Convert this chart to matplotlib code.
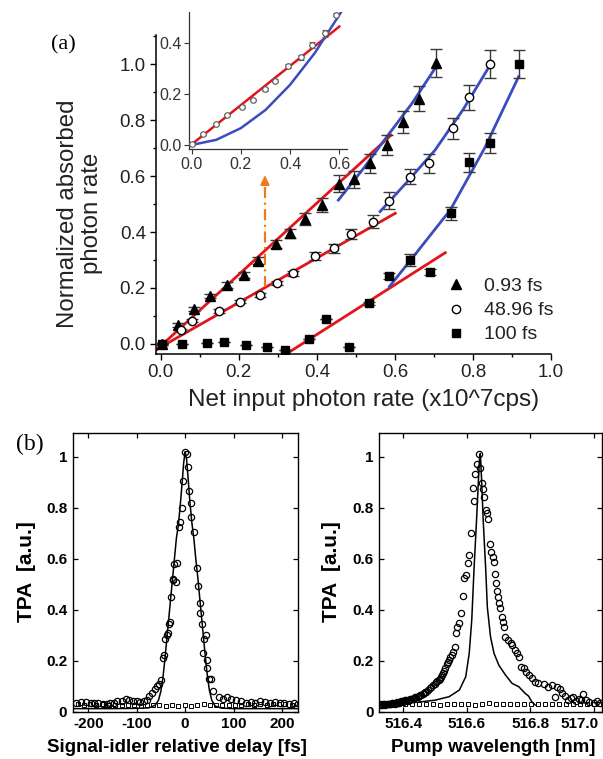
import matplotlib
matplotlib.use("Agg")
import matplotlib.pyplot as plt
import matplotlib.transforms as mtransforms
from matplotlib.lines import Line2D
from matplotlib.ticker import MultipleLocator
import numpy as np

# ---------------- Panel (a) data ----------------
tri_x = [0.003, 0.045, 0.084, 0.126, 0.169, 0.212, 0.248, 0.296, 0.332, 0.370, 0.413, 0.457, 0.496, 0.537, 0.579, 0.620, 0.661, 0.706]
tri_y = [0.000, 0.068, 0.124, 0.171, 0.211, 0.246, 0.298, 0.357, 0.395, 0.446, 0.496, 0.572, 0.588, 0.645, 0.711, 0.792, 0.877, 1.005]
tri_e = [0.005, 0.006, 0.007, 0.008, 0.010, 0.012, 0.014, 0.015, 0.016, 0.022, 0.024, 0.030, 0.030, 0.033, 0.037, 0.039, 0.044, 0.050]

cir_x = [0.003, 0.051, 0.079, 0.148, 0.203, 0.253, 0.299, 0.340, 0.394, 0.443, 0.488, 0.543, 0.584, 0.639, 0.688, 0.750, 0.790, 0.844]
cir_y = [0.000, 0.050, 0.083, 0.118, 0.151, 0.175, 0.217, 0.252, 0.314, 0.342, 0.393, 0.437, 0.512, 0.598, 0.645, 0.770, 0.881, 1.002]
cir_e = [0.004, 0.005, 0.005, 0.006, 0.006, 0.007, 0.008, 0.010, 0.013, 0.016, 0.019, 0.022, 0.030, 0.028, 0.033, 0.039, 0.044, 0.050]

sq_x = [0.003, 0.055, 0.118, 0.162, 0.218, 0.272, 0.319, 0.380, 0.424, 0.483, 0.534, 0.585, 0.638, 0.689, 0.744, 0.791, 0.844, 0.919]
sq_y = [0.000, 0.000, 0.005, 0.008, -0.004, -0.010, -0.021, 0.017, 0.088, -0.012, 0.145, 0.243, 0.300, 0.258, 0.467, 0.649, 0.717, 1.002]
sq_e = [0.0, 0.0, 0.0, 0.0, 0.0, 0.0, 0.0, 0.0, 0.0, 0.0, 0.006, 0.010, 0.020, 0.010, 0.024, 0.033, 0.036, 0.050]

# linear fits (endpoints) and quadratic-regime fits (read points)
red_tri_x = [-0.010, 0.590]
red_tri_y = [-0.020, 0.746]
red_cir_x = [-0.010, 0.601]
red_cir_y = [-0.019, 0.467]
red_sq_x = [0.327, 0.729]
red_sq_y = [-0.031, 0.326]

blue_tri_x = [0.455, 0.520, 0.579, 0.645, 0.708]
blue_tri_y = [0.514, 0.628, 0.740, 0.862, 0.996]
blue_cir_x = [0.562, 0.630, 0.703, 0.775, 0.849]
blue_cir_y = [0.473, 0.577, 0.693, 0.838, 1.008]
blue_sq_x = [0.586, 0.661, 0.742, 0.830, 0.917]
blue_sq_y = [0.205, 0.336, 0.479, 0.700, 0.955]

arrow_x = 0.267
arrow_y0, arrow_y1 = 0.205, 0.612

legend_labels = ["0.93 fs", "48.96 fs", "100 fs"]

# inset data (48.96 fs, low-rate region)
ins_x = [0.000, 0.045, 0.100, 0.145, 0.203, 0.250, 0.298, 0.339, 0.393, 0.443, 0.488, 0.542, 0.585]
ins_y = [0.004, 0.042, 0.081, 0.118, 0.150, 0.176, 0.218, 0.251, 0.311, 0.344, 0.392, 0.438, 0.510]
ins_e = [0.003, 0.003, 0.004, 0.004, 0.005, 0.005, 0.006, 0.006, 0.008, 0.010, 0.012, 0.014, 0.006]
ins_red_x = [-0.020, 0.600]
ins_red_y = [-0.013, 0.464]
ins_blue_x = [0.000, 0.100, 0.200, 0.300, 0.400, 0.500, 0.606]
ins_blue_y = [0.000, 0.020, 0.066, 0.137, 0.236, 0.360, 0.519]

# ---------------- Panel (b) data ----------------
dl_cx = [-225, -215, -205, -195, -188, -180, -170, -162, -155, -147, -140, -130, -122, -115, -108, -100, -93, -85, -78,
         -75, -68, -63, -58, -54, -50, -45, -44, -41, -38, -36, -33, -32, -30, -26, -25, -22, -19, -16, -13, -11, -7, -5,
         0, 3, 7, 9, 12, 13, 19, 24, 26, 30, 31, 34, 36, 40, 44, 45, 46, 50, 53, 58, 69, 78, 86, 95, 105, 115, 125, 135,
         145, 155, 165, 175, 185, 195, 205, 215, 225]
dl_cy = [0.035, 0.037, 0.038, 0.036, 0.035, 0.033, 0.032, 0.031, 0.034, 0.036, 0.040, 0.042, 0.048, 0.046, 0.042, 0.040, 0.037, 0.040, 0.045,
         0.060, 0.075, 0.090, 0.100, 0.110, 0.124, 0.210, 0.222, 0.285, 0.300, 0.310, 0.345, 0.353, 0.450, 0.515, 0.520, 0.578, 0.510, 0.584, 0.725, 0.745, 0.800, 0.905,
         1.017, 1.010, 0.960, 0.867, 0.820, 0.765, 0.703, 0.563, 0.494, 0.425, 0.386, 0.344, 0.229, 0.285, 0.300, 0.203, 0.170, 0.130, 0.127, 0.082, 0.056, 0.050, 0.059, 0.048, 0.046, 0.040, 0.036, 0.038,
         0.035, 0.040, 0.037, 0.035, 0.038, 0.036, 0.034, 0.031, 0.035]
dl_sx = [-222, -209, -196, -183, -170, -157, -144, -131, -118, -105, -92, -79, -66, -53, -40, -27, -14, -1, 12, 25, 38,
         51, 64, 77, 90, 103, 116, 129, 142, 155, 168, 181, 194, 207, 220, 231]
dl_sy = [0.030, 0.028, 0.031, 0.027, 0.029, 0.026, 0.028, 0.025, 0.027, 0.026, 0.024, 0.028, 0.025, 0.027, 0.024, 0.026, 0.023, 0.025, 0.024, 0.027, 0.030,
         0.026, 0.028, 0.025, 0.027, 0.028, 0.026, 0.029, 0.027, 0.030, 0.028, 0.031, 0.029, 0.030, 0.028, 0.032]
dl_fx = [-232, -150, -100, -75, -62, -55, -50, -46, -42, -38, -34, -30, -26, -22, -18, -14, -10, -6, -3, 0,
         3, 6, 10, 14, 18, 22, 26, 30, 34, 38, 42, 46, 50, 55, 62, 75, 100, 150, 233]
dl_fy = [0.012, 0.012, 0.013, 0.015, 0.025, 0.045, 0.080, 0.130, 0.200, 0.280, 0.360, 0.440, 0.520, 0.600, 0.680, 0.730, 0.810, 0.900, 0.975, 1.020,
         0.990, 0.920, 0.820, 0.740, 0.680, 0.600, 0.530, 0.450, 0.370, 0.290, 0.210, 0.140, 0.085, 0.045, 0.022, 0.014, 0.012, 0.012, 0.012]

wl_cx = [516.327, 516.330, 516.333, 516.337, 516.340, 516.344, 516.348, 516.352, 516.355, 516.359, 516.362, 516.366,
         516.369, 516.373, 516.376, 516.380, 516.383, 516.387, 516.390, 516.394, 516.397, 516.401, 516.404, 516.407,
         516.410, 516.414, 516.418, 516.422, 516.426, 516.430, 516.434, 516.438, 516.442, 516.446, 516.450, 516.454,
         516.457, 516.461, 516.465, 516.469, 516.473, 516.478, 516.483, 516.489, 516.494, 516.500,
         516.504, 516.508, 516.512, 516.516, 516.519, 516.523, 516.527, 516.530, 516.533, 516.537, 516.540, 516.543, 516.548,
         516.554, 516.556, 516.564, 516.566, 516.571, 516.575, 516.582, 516.587, 516.590, 516.597, 516.604, 516.606, 516.613,
         516.620, 516.623, 516.626, 516.631, 516.639, 516.642, 516.647, 516.652, 516.656, 516.660, 516.663, 516.666, 516.672,
         516.677, 516.683, 516.686, 516.689, 516.691, 516.696, 516.699, 516.701, 516.706, 516.712, 516.714, 516.717, 516.722,
         516.730, 516.738, 516.744, 516.751, 516.758, 516.764, 516.772, 516.779, 516.788, 516.795, 516.805, 516.816, 516.826,
         516.842, 516.857, 516.868, 516.878, 516.885, 516.894, 516.899, 516.909, 516.920, 516.928, 516.935, 516.945, 516.953,
         516.961, 516.966, 516.975, 516.985, 517.000, 517.010, 517.020]
wl_cy = [0.029, 0.027, 0.028, 0.031, 0.030, 0.028, 0.030, 0.032, 0.031, 0.029, 0.032, 0.034,
         0.033, 0.031, 0.035, 0.037, 0.036, 0.034, 0.039, 0.041, 0.040, 0.038, 0.043, 0.045,
         0.044, 0.042, 0.046, 0.050, 0.048, 0.051, 0.053, 0.056, 0.059, 0.057, 0.062, 0.066,
         0.065, 0.069, 0.072, 0.076, 0.078, 0.085, 0.092, 0.098, 0.105, 0.110,
         0.115, 0.120, 0.124, 0.130, 0.137, 0.143, 0.150, 0.160, 0.170, 0.186, 0.195, 0.203, 0.213,
         0.222, 0.235, 0.255, 0.307, 0.333, 0.346, 0.388, 0.454, 0.523, 0.536, 0.584, 0.614, 0.700,
         0.876, 0.826, 0.932, 0.970, 1.010, 0.957, 0.898, 0.873, 0.840, 0.790, 0.780, 0.756, 0.656,
         0.627, 0.608, 0.588, 0.540, 0.503, 0.475, 0.448, 0.425, 0.405, 0.373, 0.353, 0.333, 0.294,
         0.281, 0.271, 0.262, 0.242, 0.229, 0.213, 0.176, 0.170, 0.157, 0.144, 0.131, 0.118, 0.111,
         0.107, 0.098, 0.105, 0.059, 0.098, 0.088, 0.072, 0.061, 0.046, 0.052, 0.059, 0.040, 0.050,
         0.046, 0.069, 0.045, 0.038, 0.033, 0.042, 0.036]
wl_sx = [516.340, 516.362, 516.384, 516.406, 516.428, 516.450, 516.472, 516.494, 516.516, 516.538, 516.560, 516.582,
         516.604, 516.626, 516.648, 516.670, 516.692, 516.714, 516.736, 516.758, 516.780, 516.802, 516.824, 516.846,
         516.868, 516.890, 516.912, 516.934, 516.956, 516.978, 517.000, 517.018]
wl_sy = [0.030, 0.031, 0.032, 0.030, 0.029, 0.031, 0.030, 0.032, 0.028, 0.031, 0.030, 0.032, 0.030, 0.027, 0.031, 0.033,
         0.031, 0.030, 0.032, 0.030, 0.031, 0.029, 0.030, 0.031, 0.029, 0.030, 0.032, 0.031, 0.029, 0.030, 0.031, 0.030]
wl_fx = [516.324, 516.400, 516.450, 516.500, 516.545, 516.577, 516.597, 516.608, 516.616, 516.623, 516.631, 516.637, 516.640,
         516.643, 516.647, 516.652, 516.660, 516.665, 516.675, 516.686, 516.701, 516.722, 516.743, 516.764, 516.774, 516.784,
         516.795, 516.805, 516.816]
wl_fy = [0.028, 0.032, 0.038, 0.045, 0.059, 0.085, 0.137, 0.229, 0.360, 0.556, 0.750, 0.908, 0.987,
         1.013, 0.908, 0.750, 0.556, 0.410, 0.294, 0.229, 0.183, 0.144, 0.111, 0.098, 0.085, 0.072,
         0.061, 0.039, 0.026]

# ---------------- Figure ----------------
W, H = 603, 759
fig = plt.figure(figsize=(W / 100, H / 100), dpi=100)
SANS = ["Liberation Sans", "DejaVu Sans"]
SERIF = ["Liberation Serif", "DejaVu Serif"]

def fbox(l, r, t, b):
    return [l / W, 1 - b / H, (r - l) / W, (b - t) / H]

RED = "#e3151b"
BLUE = "#3a4cc0"
ORANGE = "#f07a1a"
EC = "#3a3a3a"
TXT = "#222222"

ax = fig.add_axes(fbox(155.7, 551, 35, 354.3))
ax.set_xlim(-0.013, 1.0)
ax.set_ylim(-0.037, 1.104)
for s in ["top", "right"]:
    ax.spines[s].set_visible(False)
for s in ["left", "bottom"]:
    ax.spines[s].set_linewidth(1.1)

ax.plot(red_tri_x, red_tri_y, color=RED, lw=2.0, zorder=2)
ax.plot(red_cir_x, red_cir_y, color=RED, lw=2.0, zorder=2)
ax.plot(red_sq_x, red_sq_y, color=RED, lw=2.0, zorder=2)
ax.plot(blue_tri_x, blue_tri_y, color=BLUE, lw=2.0, zorder=2)
ax.plot(blue_cir_x, blue_cir_y, color=BLUE, lw=2.0, zorder=2)
ax.plot(blue_sq_x, blue_sq_y, color=BLUE, lw=2.0, zorder=2)

ekw = dict(ecolor=EC, elinewidth=1.0, capsize=4, capthick=1.0, linestyle="none", zorder=3)
ax.errorbar(tri_x, tri_y, yerr=tri_e, marker="^", ms=7, mfc="black", mec="black", **ekw)
ax.errorbar(cir_x, cir_y, yerr=cir_e, marker="o", ms=6, mfc="white", mec="black", mew=1.0, **ekw)
ax.errorbar(sq_x, sq_y, yerr=sq_e, marker="s", ms=5.5, mfc="black", mec="black", **ekw)

ax.plot([arrow_x, arrow_x], [arrow_y0, arrow_y1 - 0.03], color=ORANGE, lw=1.6, ls=(0, (5, 2, 1, 2)), zorder=2)
ax.annotate("", xy=(arrow_x, arrow_y1), xytext=(arrow_x, arrow_y1 - 0.035),
            arrowprops=dict(arrowstyle="-|>,head_width=0.25,head_length=0.5", color=ORANGE, lw=1.6))

ax.xaxis.set_minor_locator(MultipleLocator(0.1))
ax.yaxis.set_minor_locator(MultipleLocator(0.1))
ax.set_xticks(np.arange(0, 1.01, 0.2))
ax.set_xticklabels([f"{v:.1f}" for v in np.arange(0, 1.01, 0.2)])
ax.set_yticks(np.arange(0, 1.01, 0.2))
ax.set_yticklabels([f"{v:.1f}" for v in np.arange(0, 1.01, 0.2)])
ax.tick_params(which="major", direction="out", length=4.5, width=1.0, labelsize=13.5, pad=2.5, colors="black", labelcolor=TXT)
ax.tick_params(which="minor", direction="out", length=2.5, width=1.0)
for lab in ax.get_xticklabels() + ax.get_yticklabels():
    lab.set_family(SANS)

handles = [Line2D([], [], ls="none", marker="^", ms=7, mfc="black", mec="black"),
           Line2D([], [], ls="none", marker="o", ms=6, mfc="white", mec="black"),
           Line2D([], [], ls="none", marker="s", ms=5.5, mfc="black", mec="black")]
leg = ax.legend(handles, legend_labels, loc="upper left", bbox_to_anchor=(0.7358, 0.240), frameon=False,
                borderpad=0, borderaxespad=0, handlelength=1.0, handletextpad=0.95, labelspacing=0.33,
                prop=dict(family=SANS, size=14))
for t in leg.get_texts():
    t.set_color(TXT)

fig.text(80 / W, 1 - 213.5 / H, "Normalized absorbed\nphoton rate", rotation=90, ha="center", va="center",
         multialignment="center", fontsize=17.3, family=SANS, color=TXT, linespacing=1.1)
fig.text(363.5 / W, 1 - 400.5 / H, "Net input photon rate (x10^7cps)", ha="center", va="center",
         fontsize=17.5, family=SANS, color=TXT)
fig.text(63 / W, 1 - 45 / H, "(a)", ha="center", va="center", fontsize=16, family=SERIF)

# inset
axi = fig.add_axes(fbox(189, 346.7, 12.3, 149))
axi.patch.set_alpha(0)
axi.set_xlim(-0.011, 0.63)
axi.set_ylim(-0.016, 0.52)
for s in ["top", "right"]:
    axi.spines[s].set_visible(False)
for s in ["left", "bottom"]:
    axi.spines[s].set_linewidth(0.9)
    axi.spines[s].set_color("#333333")
axi.plot(ins_red_x, ins_red_y, color=RED, lw=1.8, zorder=2)
axi.plot(ins_blue_x, ins_blue_y, color=BLUE, lw=1.8, zorder=2)
axi.errorbar(ins_x, ins_y, yerr=ins_e, marker="o", ms=4, mfc="white", mec="#555555", mew=0.8,
             ecolor="#666666", elinewidth=0.7, capsize=2, capthick=0.7, ls="none", zorder=3)
axi.set_xticks([0.0, 0.2, 0.4, 0.6])
axi.set_xticklabels(["0.0", "0.2", "0.4", "0.6"])
axi.set_yticks([0.0, 0.2, 0.4])
axi.set_yticklabels(["0.0", "0.2", "0.4"])
axi.tick_params(direction="out", length=3.5, width=0.8, labelsize=11.5, pad=2, colors="#333333", labelcolor="#333333")
for lab in axi.get_xticklabels() + axi.get_yticklabels():
    lab.set_family(SANS)

# ---------------- Panel (b) ----------------
def style_b(a):
    for s in a.spines.values():
        s.set_linewidth(1.0)
        s.set_color("black")
    a.tick_params(direction="in", length=3.5, width=0.9, top=True, right=True, labelsize=11, pad=4)
    for lab in a.get_xticklabels() + a.get_yticklabels():
        lab.set_family(SANS)
        lab.set_fontweight("bold")

b1 = fig.add_axes(fbox(72.7, 298, 432.7, 711.7))
b1.plot(dl_fx, dl_fy, color="black", lw=1.1, zorder=2)
b1.plot(dl_cx, dl_cy, ls="none", marker="o", ms=4.5, mfc="none", mec="black", mew=0.9, zorder=3)
b1.plot(dl_sx, dl_sy, ls="none", marker="s", ms=3.4, mfc="none", mec="black", mew=0.7, zorder=3)
b1.set_xlim(-232, 233)
b1.set_ylim(0, 1.094)
b1.set_xticks([-200, -100, 0, 100, 200])
b1.set_xticklabels(["-200", "-100", "0", "100", "200"])
b1.set_yticks([0, 0.2, 0.4, 0.6, 0.8, 1.0])
b1.set_yticklabels(["0", "0.2", "0.4", "0.6", "0.8", "1"])
style_b(b1)

b2 = fig.add_axes(fbox(379, 601.7, 432.7, 711.7))
b2.plot(wl_fx, wl_fy, color="black", lw=1.1, zorder=2)
b2.plot(wl_cx, wl_cy, ls="none", marker="o", ms=4.5, mfc="none", mec="black", mew=0.9, zorder=3)
b2.plot(wl_sx, wl_sy, ls="none", marker="s", ms=3.4, mfc="none", mec="black", mew=0.7, zorder=3)
b2.set_xlim(516.324, 517.025)
b2.set_ylim(0, 1.094)
b2.set_xticks([516.4, 516.6, 516.8, 517.0])
b2.set_xticklabels(["516.4", "516.6", "516.8", "517.0"])
b2.set_yticks([0, 0.2, 0.4, 0.6, 0.8, 1.0])
b2.set_yticklabels(["0", "0.2", "0.4", "0.6", "0.8", "1"])
style_b(b2)
# keep the last wavelength label inside the canvas, as in the reference
last = b2.get_xticklabels()[-1]
last.set_transform(last.get_transform() + mtransforms.ScaledTranslation(-14 / 100, 0, fig.dpi_scale_trans))

fig.text(26 / W, 1 - 572 / H, "TPA  [a.u.]", rotation=90, ha="center", va="center", fontsize=15,
         fontweight="bold", family=SANS)
fig.text(331.6 / W, 1 - 572 / H, "TPA  [a.u.]", rotation=90, ha="center", va="center", fontsize=15,
         fontweight="bold", family=SANS)
fig.text(177 / W, 1 - 747 / H, "Signal-idler relative delay [fs]", ha="center", va="center", fontsize=13.5,
         fontweight="bold", family=SANS)
fig.text(493 / W, 1 - 747 / H, "Pump wavelength [nm]", ha="center", va="center", fontsize=13.5,
         fontweight="bold", family=SANS)
fig.text(30 / W, 1 - 444 / H, "(b)", ha="center", va="center", fontsize=17, family=SERIF)

fig.savefig("out.png", dpi=100)
